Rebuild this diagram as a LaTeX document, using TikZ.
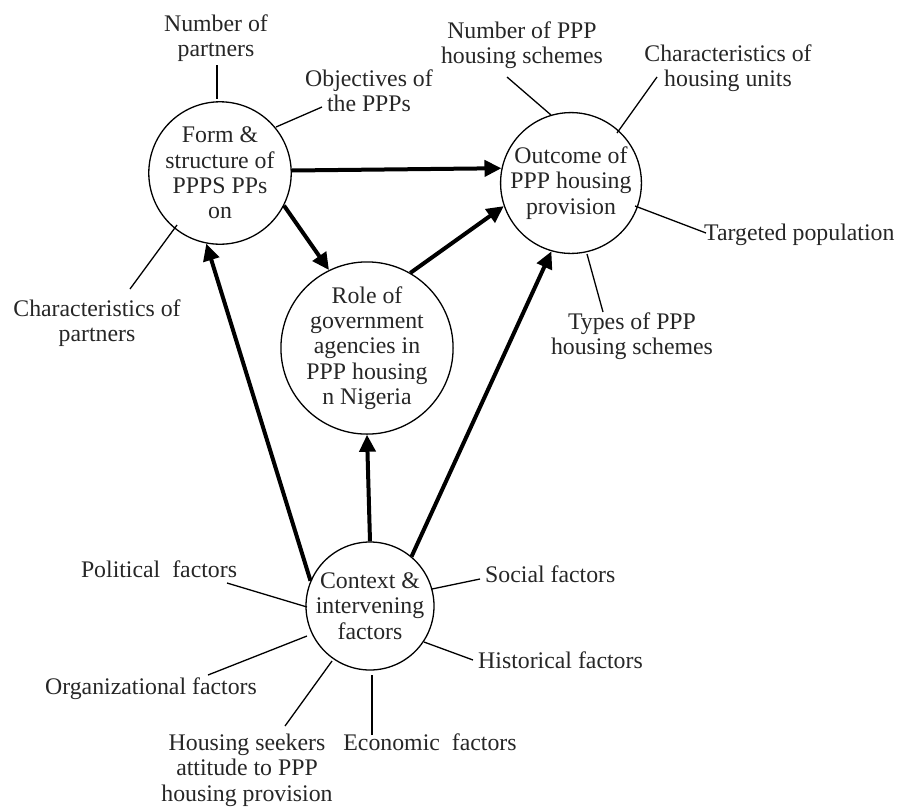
\documentclass[tikz,border=0pt]{standalone}
\usepackage{fontspec}
\setmainfont{Liberation Serif}
\usetikzlibrary{arrows.meta}
\begin{document}
\begin{tikzpicture}[x=1pt,y=-1pt,
  every node/.style={font=\fontsize{23.8}{25.3}\selectfont, inner sep=0pt, align=center, text=black!85},
  hub/.style={circle, draw, line width=1.3pt, minimum size=#1},
  thin/.style={line width=1.3pt},
  flow/.style={line width=4pt, -{Triangle[length=17pt,width=16pt]}}]
\useasboundingbox (0,0) rectangle (899,807);

% hubs
\node[hub=126pt] (form) at (220,173) {Form \&\\structure of\\PPPS PPs\\on};
\node[hub=128pt] (out) at (571,183) {Outcome of\\PPP housing\\provision};
\node[hub=166pt] (role) at (367,348) {Role of\\government\\agencies in\\PPP housing\\n Nigeria};
\node[hub=128pt] (ctx) at (370,606) {Context \&\\intervening\\factors};

% labels
\node (nump) at (216,38) {Number of\\partners};
\node (obj) at (369,91) {Objectives of\\the PPPs};
\node (charp) at (97,323) {Characteristics of\\partners};
\node (nums) at (522,45) {Number of PPP\\housing schemes};
\node (charh) at (728,68) {Characteristics of\\housing units};
\node[anchor=base west] (targ) at (704,240) {Targeted population};
\node (types) at (632,336) {Types of PPP\\housing schemes};
\node[anchor=base] (pol) at (159,577) {Political\ \ factors};
\node[anchor=base] (org) at (151,694) {Organizational factors};
\node (seek) at (247,770) {Housing seekers\\attitude to PPP\\housing provision};
\node[anchor=base] (eco) at (430,750) {Economic\ \ factors};
\node[anchor=base west] (soc) at (485,582) {Social factors};
\node[anchor=base west] (hist) at (478,668) {Historical factors};

% line end coordinates
\coordinate (a1) at (217,65);  \coordinate (a2) at (217,99);
\coordinate (b1) at (322,107); \coordinate (b2) at (276,127);
\coordinate (c1) at (130,289); \coordinate (c2) at (177,225);
\coordinate (d1) at (507,77);  \coordinate (d2) at (551,115);
\coordinate (e1) at (657,77);  \coordinate (e2) at (617,133);
\coordinate (f1) at (706,233); \coordinate (f2) at (635,206);
\coordinate (g1) at (603,312); \coordinate (g2) at (587,254);
\coordinate (h1) at (227,583); \coordinate (h2) at (307,607);
\coordinate (i1) at (208,675); \coordinate (i2) at (307,636);
\coordinate (j1) at (285,726); \coordinate (j2) at (332,661);
\coordinate (k1) at (372,735); \coordinate (k2) at (372,675);
\coordinate (l1) at (480,579); \coordinate (l2) at (432,589);
\coordinate (m1) at (473,660); \coordinate (m2) at (424,642);

\foreach \p in {a,b,c,d,e,f,g,h,i,j,k,l,m}
  \draw[thin] (\p1) -- (\p2);

% thick arrows
\draw[flow] (form.2.7) -- (out.168.5);
\draw[flow] (form.-27) -- (role.116);
\draw[flow] (role.60.6) -- (out.199.3);
\draw[flow] (ctx.157.6) -- (form.259.5);
\draw[flow] (ctx.90) -- (role.270);
\draw[flow] (ctx.50.4) -- (out.254.6);
\end{tikzpicture}
\end{document}
